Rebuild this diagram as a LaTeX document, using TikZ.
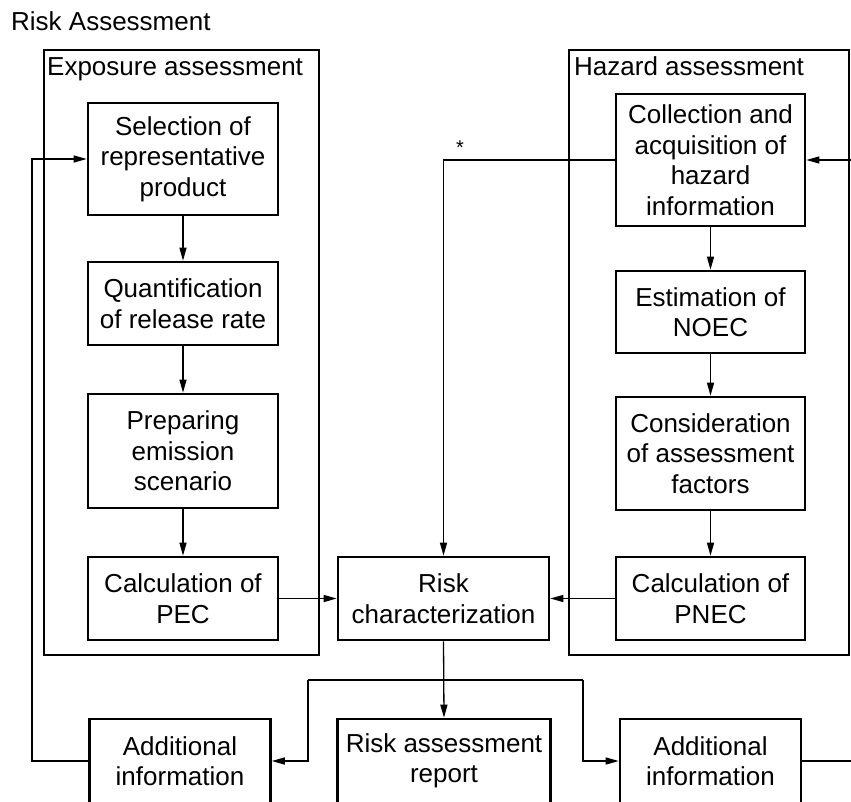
\documentclass[tikz,border=0pt]{standalone}
\usepackage{fontspec}
\setmainfont{Liberation Sans}
\usetikzlibrary{arrows.meta}
\tikzset{
  txt/.style={font=\fontsize{26}{30.5}\selectfont},
  box/.style={draw, line width=2.6pt, align=center, inner sep=0pt, txt},
  group/.style={draw, line width=2.4pt, inner sep=0pt},
  conn/.style={line width=1.3pt},
  arr/.style={conn, -{Triangle[length=13pt,width=7pt]}},
}
\begin{document}
\begin{tikzpicture}[x=1pt,y=-1pt]
\useasboundingbox (0,0) rectangle (851,801);
\clip (0,0) rectangle (851,801);
% title and groups
\node[txt, anchor=base west, inner sep=0pt] (title) at (11,30) {Risk Assessment};
\node[group, minimum width=275pt, minimum height=605pt] (expo) at (181.5,352.5) {};
\node[group, minimum width=280pt, minimum height=605pt] (haz) at (709,352.5) {};
\node[txt, anchor=base west, inner sep=0pt] (expol) at (47,75) {Exposure assessment};
\node[txt, anchor=base west, inner sep=0pt] (hazl) at (574,75) {Hazard assessment};
% exposure column
\node[box, minimum width=190pt, minimum height=112pt] (sel) at (183,159) {Selection of\\representative\\product};
\node[box, minimum width=190pt, minimum height=83pt] (quant) at (183,303.5) {Quantification\\of release rate};
\node[box, minimum width=190pt, minimum height=114pt] (prep) at (183,451) {Preparing\\emission\\scenario};
\node[box, minimum width=190pt, minimum height=83pt] (pec) at (183,598.5) {Calculation of\\PEC};
% hazard column
\node[box, minimum width=189pt, minimum height=132pt] (coll) at (710.5,160) {Collection and\\acquisition of\\hazard\\information};
\node[box, minimum width=189pt, minimum height=82pt] (noec) at (710.5,312) {Estimation of\\NOEC};
\node[box, minimum width=189pt, minimum height=113pt] (cons) at (710.5,453.5) {Consideration\\of assessment\\factors};
\node[box, minimum width=189pt, minimum height=83pt] (pnec) at (710.5,598.5) {Calculation of\\PNEC};
% middle
\node[box, minimum width=211pt, minimum height=83pt] (risk) at (443.5,598.5) {Risk\\characterization};
% bottom row
\node[box, minimum width=181pt, minimum height=84pt] (addL) at (180,761) {Additional\\information};
\node[box, minimum width=213pt, minimum height=84pt] (rep) at (444,761) {Risk assessment\\report};
\node[box, minimum width=181pt, minimum height=84pt] (addR) at (710.5,761) {Additional\\information};
\node[font=\fontsize{20}{24}\selectfont, anchor=base, inner sep=0pt] (star) at (460,154) {*};
% connectors
\draw[arr] (sel) -- (quant);
\draw[arr] (quant) -- (prep);
\draw[arr] (prep) -- (pec);
\draw[arr] (coll) -- (noec);
\draw[arr] (noec) -- (cons);
\draw[arr] (cons) -- (pnec);
\draw[arr] (pec.east) -- (risk.west);
\draw[arr] (pnec.west) -- (risk.east);
\draw[arr] (coll.west) -| (risk.north);
\draw[arr] (risk.south) -- (rep.north);
\coordinate (bl) at (308,680);
\coordinate (br) at (583,680);
\draw[conn] (bl) -- (br);
\draw[arr] (bl) |- (addL.east);
\draw[arr] (br) |- (addR.west);
\coordinate (lc) at (32,761);
\draw[arr] (addL.west) -- (lc) |- (sel.west);
\coordinate (rb) at (852,761);
\coordinate (rt) at (852,160);
\draw[conn] (addR.east) -- (rb);
\draw[arr] (rt) -- (coll.east);
\end{tikzpicture}
\end{document}
